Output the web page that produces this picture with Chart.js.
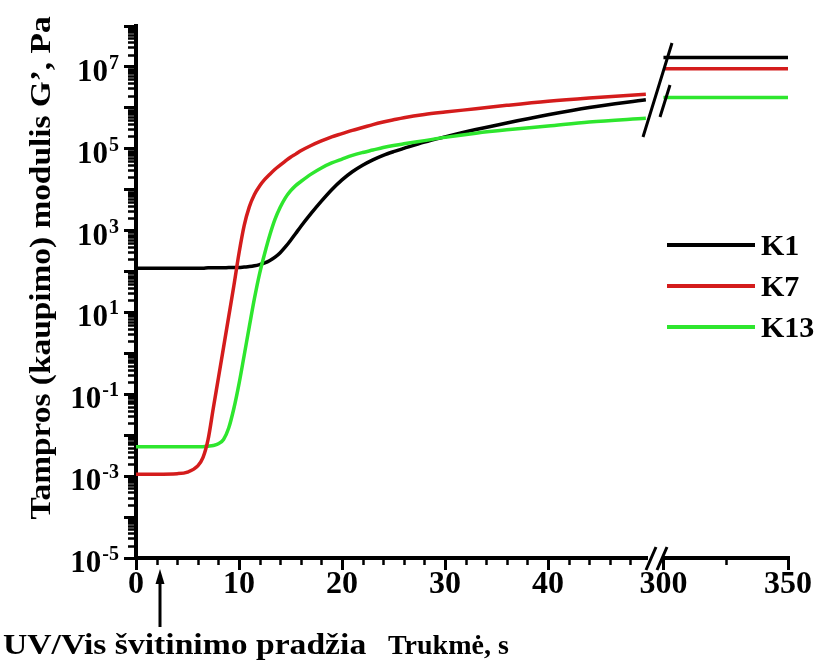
<!DOCTYPE html>
<html>
<head>
<meta charset="utf-8">
<script src="https://cdn.jsdelivr.net/npm/chart.js@4.4.0/dist/chart.umd.min.js"></script>
<style>
  html, body { margin: 0; padding: 0; background: #fff; }
  #wrap { width: 821px; height: 661px; }
</style>
</head>
<body>
<div id="wrap"><canvas id="chart" width="821" height="661"></canvas></div>
<script>
// Storage modulus G' during UV/Vis curing
const seriesNames = ['K1', 'K7', 'K13'];
const seriesColors = ['#000000', '#d41c1c', '#2ee62e'];

// first part of the broken time axis, s
const timeEarly = [0, 2, 4, 5, 6, 6.5, 7, 7.5, 8, 8.5, 9, 9.5, 10,
  10.5, 11, 11.5, 12, 12.5, 13, 13.5, 14, 14.5, 15, 15.5, 16,
  17, 18, 19, 20, 21, 22, 23, 24, 25, 26,
  28, 30, 33, 36, 40, 44, 49.5];

const k1Early = [120, 120, 120, 120, 120, 120, 123, 123, 123, 123, 126, 126, 126,
  129, 132, 138, 148, 162, 186, 224, 288, 398, 575, 851, 1260,
  2630, 5250, 1.0e4, 1.74e4, 2.75e4, 3.98e4, 5.37e4, 6.92e4, 8.5e4, 1.02e5,
  1.45e5, 1.95e5, 2.95e5, 4.27e5, 6.76e5, 1.02e6, 1.58e6];

const k7Early = [1.12e-3, 1.12e-3, 1.15e-3, 1.26e-3, 1.78e-3, 2.82e-3, 7.9e-3, 4.5e-2, 0.25, 1.4, 7.9, 45, 280,
  1320, 3800, 7600, 1.23e4, 1.78e4, 2.4e4, 3.16e4, 3.98e4, 5.0e4, 6.2e4, 7.4e4, 8.9e4,
  1.2e5, 1.55e5, 1.95e5, 2.34e5, 2.82e5, 3.3e5, 3.9e5, 4.5e5, 5.1e5, 5.75e5,
  6.9e5, 7.9e5, 9.5e5, 1.15e6, 1.45e6, 1.74e6, 2.14e6];

const k13Early = [5.25e-3, 5.25e-3, 5.25e-3, 5.25e-3, 5.25e-3, 5.25e-3, 5.4e-3, 5.6e-3, 6.2e-3, 7.9e-3, 1.5e-2, 4.5e-2, 0.18,
  0.89, 4.5, 22, 89, 280, 790, 1900, 3700, 6300, 9300, 1.26e4, 1.58e4,
  2.4e4, 3.4e4, 4.5e4, 5.6e4, 6.9e4, 8.1e4, 9.3e4, 1.07e5, 1.2e5, 1.32e5,
  1.58e5, 1.9e5, 2.4e5, 2.9e5, 3.6e5, 4.5e5, 5.6e5];

// second part of the broken time axis, s
const timeLate = [300, 350];
const k1Late = [1.7e7, 1.7e7];
const k7Late = [9.0e6, 9.0e6];
const k13Late = [1.8e6, 1.8e6];

// axis ticks
const xTicksEarly = [0, 10, 20, 30, 40];
const xMinorEarly = [2, 4, 6, 8, 12, 14, 16, 18, 22, 24, 26, 28, 32, 34, 36, 38, 42, 44, 46, 48];
const xTicksLate = [300, 350];
const xMinorLate = [325];
const yDecades = [-5, -4, -3, -2, -1, 0, 1, 2, 3, 4, 5, 6, 7, 8];
const yLabelExponents = [-5, -3, -1, 1, 3, 5, 7];

const uvStartTime = 2.3;

const serif = '"Liberation Serif", "Times New Roman", serif';
const boldFont = (size) => `bold ${size}px ${serif}`;

function makePoints(times, values) {
  return times.map((t, i) => ({ x: t, y: values[i] }));
}

const earlyValues = [k1Early, k7Early, k13Early];
const lateValues = [k1Late, k7Late, k13Late];
// red on top, then green, black underneath
const drawOrder = [2, 0, 1];

const datasets = [];
seriesNames.forEach((name, i) => {
  datasets.push({
    label: name,
    data: makePoints(timeEarly, earlyValues[i]),
    xAxisID: 'x',
    yAxisID: 'y',
    borderColor: seriesColors[i],
    borderWidth: 3.5,
    pointRadius: 0,
    cubicInterpolationMode: 'monotone',
    order: drawOrder[i],
    inLegend: true
  });
  datasets.push({
    label: name,
    data: makePoints(timeLate, lateValues[i]),
    xAxisID: 'x2',
    yAxisID: 'y',
    borderColor: seriesColors[i],
    borderWidth: 3.5,
    pointRadius: 0,
    order: drawOrder[i],
    inLegend: false
  });
});

function tickValues(list) {
  return list.map(v => ({ value: v }));
}

const axisGrid = {
  drawOnChartArea: false,
  drawTicks: true,
  tickLength: 12,
  lineWidth: 3,
  tickWidth: 3,
  tickColor: '#000'
};
const axisBorder = { display: true, color: '#000', width: 4 };
const xTickFont = { family: serif, size: 32, weight: 'bold' };

// minor ticks, break marks, y labels, titles, arrow and legend
const decorations = {
  id: 'decorations',
  afterDraw(chart) {
    const { ctx } = chart;
    const { x, x2, y } = chart.scales;
    const axisY = y.bottom;
    const axisX = y.right;

    ctx.save();
    ctx.strokeStyle = '#000';
    ctx.fillStyle = '#000';
    ctx.lineWidth = 2.5;
    ctx.lineCap = 'butt';

    // minor ticks
    ctx.beginPath();
    xMinorEarly.forEach(t => {
      const px = Math.round(x.getPixelForValue(t)) + 0.5;
      ctx.moveTo(px, axisY);
      ctx.lineTo(px, axisY + 7);
    });
    xMinorLate.forEach(t => {
      const px = Math.round(x2.getPixelForValue(t)) + 0.5;
      ctx.moveTo(px, axisY);
      ctx.lineTo(px, axisY + 7);
    });
    yDecades.slice(0, -1).forEach(e => {
      for (let m = 2; m <= 9; m++) {
        const py = Math.round(y.getPixelForValue(m * Math.pow(10, e))) + 0.5;
        ctx.moveTo(axisX, py);
        ctx.lineTo(axisX - 8, py);
      }
    });
    ctx.stroke();

    // axis break
    const bx = x.right;
    ctx.fillStyle = '#fff';
    ctx.fillRect(bx - 3, axisY - 4, 14, 8);
    ctx.fillStyle = '#000';
    ctx.lineWidth = 3;
    ctx.beginPath();
    [bx, bx + 11].forEach(cx => {
      ctx.moveTo(cx - 5, axisY + 12);
      ctx.lineTo(cx + 5, axisY - 11);
    });
    // break marks across the curves
    ctx.moveTo(bx - 8, 137);
    ctx.lineTo(bx + 21, 43);
    ctx.moveTo(bx + 9, 117);
    ctx.lineTo(bx + 19, 85);
    ctx.stroke();

    // y tick labels 10^n
    ctx.textBaseline = 'alphabetic';
    ctx.textAlign = 'left';
    yLabelExponents.forEach(e => {
      const py = y.getPixelForValue(Math.pow(10, e));
      const expText = String(e);
      ctx.font = boldFont(20);
      const we = ctx.measureText(expText).width;
      ctx.font = boldFont(31);
      const wb = ctx.measureText('10').width;
      const right = 119;
      ctx.fillText('10', right - we - wb - 1, py + 14);
      ctx.font = boldFont(20);
      ctx.fillText(expText, right - we, py + 2);
    });

    // y axis title
    ctx.save();
    ctx.translate(50, 268);
    ctx.rotate(-Math.PI / 2);
    ctx.scale(1.15, 1);
    ctx.font = boldFont(29);
    ctx.textAlign = 'center';
    ctx.fillText('Tampros (kaupimo) modulis G\u2019, Pa', 0, 0);
    ctx.restore();

    // x axis title
    ctx.font = boldFont(28);
    ctx.textAlign = 'left';
    ctx.fillText('Trukm\u0117, s', 388, 654);

    // start of irradiation
    ctx.save();
    ctx.translate(3, 654);
    ctx.scale(1.16, 1);
    ctx.font = boldFont(29);
    ctx.fillText('UV/Vis \u0161vitinimo prad\u017Eia', 0, 0);
    ctx.restore();

    const ax = Math.round(x.getPixelForValue(uvStartTime));
    ctx.lineWidth = 3;
    ctx.beginPath();
    ctx.moveTo(ax, 627);
    ctx.lineTo(ax, 580);
    ctx.stroke();
    ctx.beginPath();
    ctx.moveTo(ax, 569);
    ctx.lineTo(ax - 4.5, 584);
    ctx.lineTo(ax + 4.5, 584);
    ctx.closePath();
    ctx.fill();

    // legend
    const legendSets = chart.data.datasets.filter(ds => ds.inLegend);
    legendSets.forEach((ds, i) => {
      const ly = 245 + i * 41;
      ctx.strokeStyle = ds.borderColor;
      ctx.lineWidth = 4;
      ctx.beginPath();
      ctx.moveTo(667, ly);
      ctx.lineTo(755, ly);
      ctx.stroke();
      ctx.fillStyle = '#000';
      ctx.font = boldFont(30);
      ctx.textAlign = 'left';
      ctx.fillText(ds.label, 761, ly + 10);
    });

    ctx.restore();
  }
};

new Chart(document.getElementById('chart'), {
  type: 'line',
  data: { datasets: datasets },
  options: {
    responsive: false,
    animation: false,
    events: [],
    layout: { padding: { left: 0, top: 26, right: 33, bottom: 0 } },
    plugins: {
      legend: { display: false },
      tooltip: { enabled: false }
    },
    scales: {
      x: {
        type: 'linear',
        position: 'bottom',
        stack: 'time',
        stackWeight: 515,
        min: 0,
        max: 50,
        afterBuildTicks: (scale) => { scale.ticks = tickValues(xTicksEarly); },
        afterFit: (scale) => { scale.height = 103; },
        ticks: { autoSkip: false, maxRotation: 0, color: '#000', font: xTickFont, padding: -4 },
        grid: axisGrid,
        border: axisBorder
      },
      x2: {
        type: 'linear',
        position: 'bottom',
        stack: 'time',
        stackWeight: 137,
        min: 295,
        max: 350,
        afterBuildTicks: (scale) => { scale.ticks = tickValues(xTicksLate); },
        afterFit: (scale) => { scale.height = 103; },
        ticks: { autoSkip: false, maxRotation: 0, color: '#000', font: xTickFont, padding: -4 },
        grid: axisGrid,
        border: axisBorder
      },
      y: {
        type: 'logarithmic',
        position: 'left',
        min: 1e-5,
        max: 1e8,
        afterBuildTicks: (scale) => {
          scale.ticks = yDecades.map(e => ({ value: Math.pow(10, e) }));
        },
        afterFit: (scale) => { scale.width = 136; },
        ticks: { display: false },
        grid: axisGrid,
        border: axisBorder
      }
    }
  },
  plugins: [decorations]
});
</script>
</body>
</html>
